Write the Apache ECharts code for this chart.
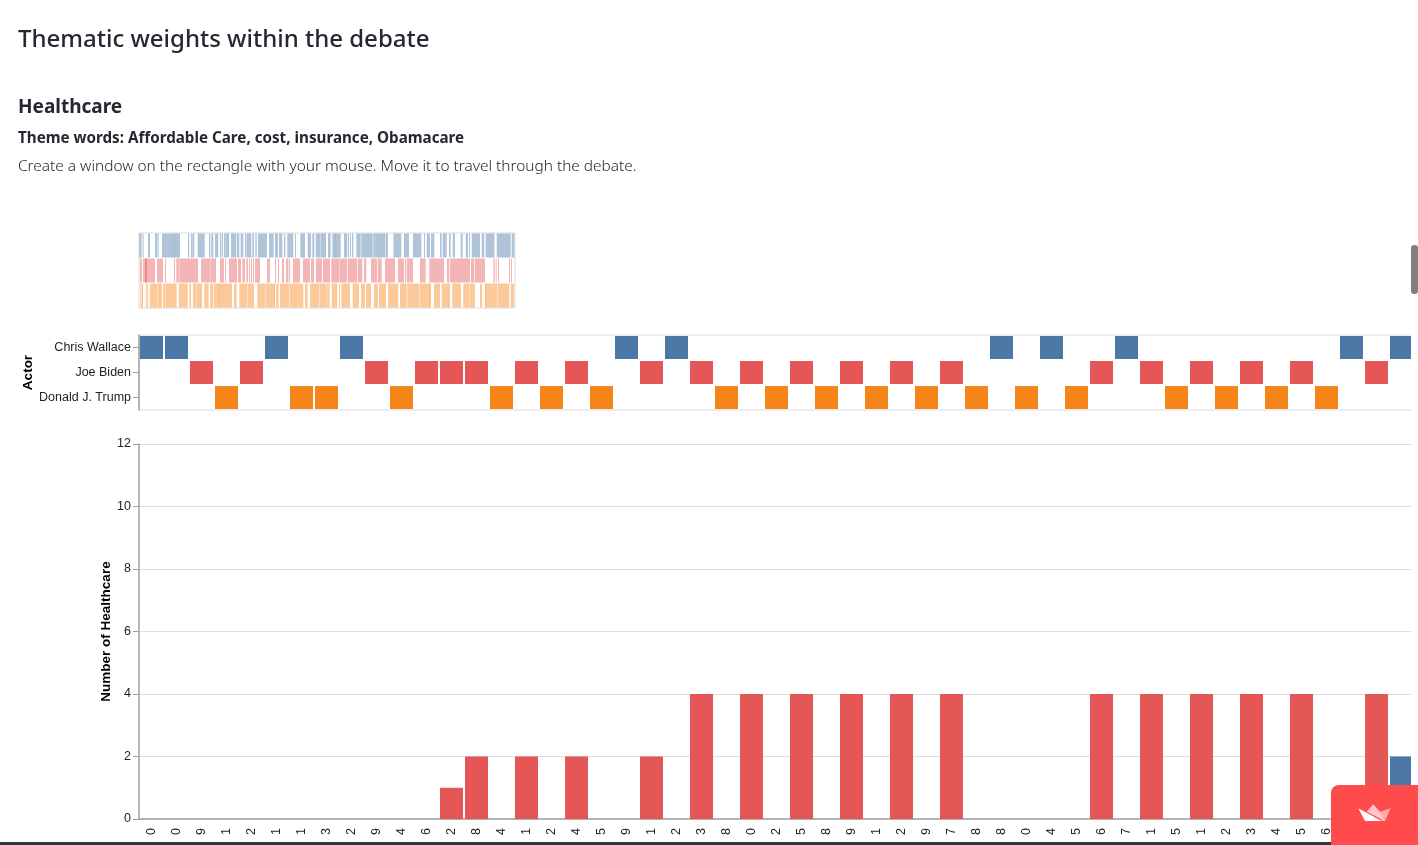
<!DOCTYPE html>
<html><head><meta charset="utf-8">
<style>html,body{margin:0;padding:0;background:#fff;overflow:hidden}#c{width:1418px;height:845px}</style>
<script src="https://cdn.jsdelivr.net/npm/echarts@6/dist/echarts.min.js"></script>
</head><body><div id="c"></div>
<script>
const actors = ['Chris Wallace', 'Joe Biden', 'Donald J. Trump'];
const xLabels = ['0','0','9','1','2','1','1','3','2','9','4','6','2','8','4','1','2','4','5','9','1','2','3','8','0','2','5','8','9','1','2','9','7','8','8','0','4','5','6','7','1','5','1','2','3','4','5','6','7','8','9'];
const wallaceTurns = [0,1,5,8,19,21,34,36,39,48,50];
const bidenTurns = [2,4,9,11,12,13,15,17,20,22,24,26,28,30,32,38,40,42,44,46,49];
const trumpTurns = [3,6,7,10,14,16,18,23,25,27,29,31,33,35,37,41,43,45,47];
const bidenCounts = [0,0,0,0,0,0,0,0,0,0,0,0,1,2,0,2,0,2,0,0,2,0,4,0,4,0,4,0,4,0,4,0,4,0,0,0,0,0,4,0,4,0,4,0,4,0,4,0,0,4,0];
const wallaceCounts = [0,0,0,0,0,0,0,0,0,0,0,0,0,0,0,0,0,0,0,0,0,0,0,0,0,0,0,0,0,0,0,0,0,0,0,0,0,0,0,0,0,0,0,0,0,0,0,0,0,0,2];
const wallaceSpans = [[0.3,2.7],[3.7,4.7],[9,11],[16,18],[18.4,19.7],[23,35.3],[35,41],[49,50.3],[52,53.7],[54,55.3],[58.7,65.7],[70,71.3],[72.3,74.3],[76,79.3],[81,82.3],[83,84],[85,86],[86.3,90],[92,97],[97.7,100.3],[101.7,104.3],[106,107.3],[107.7,112.3],[113.3,115],[116.3,117.7],[119,128],[130,134.7],[136,139],[140,143.3],[145,146.3],[148.3,154.3],[156,157],[161.3,166],[168.7,172],[173.3,175.3],[176.7,181],[181.3,187],[189,191.7],[193.3,197],[196.7,201.7],[205,208.3],[209,210],[211,212],[213,214.3],[217.3,221.7],[222.3,233.7],[234.3,236.5],[236.5,246],[246.5,249],[254.3,255.7],[255.7,262.3],[265,270],[274,282.3],[285,286],[287.7,291],[292,295.3],[301,302.7],[303.7,307.7],[310,311.7],[313.7,316],[321.7,323.7],[326.7,329],[330,331],[332.7,341],[342.7,345.3],[346.7,355.5],[357.7,371.7],[372.7,375.3]];
const bidenSpans = [[1,3],[4,8],[6,16],[18,24],[26,27],[35,36],[37.3,40],[40.3,59],[62,71],[71.3,77],[81,85],[86,87],[90,98],[99,102],[103.3,106],[107.3,109],[110,111],[112,113],[114,115],[116,121],[128,131],[136,137],[139,140],[143,145],[147,149],[149.6,151],[154,161],[164,171],[172,175],[177,183],[184,191],[192.3,200],[200.4,208.3],[209,218.3],[219,223.3],[225,227.3],[232,238.3],[239,242.7],[246,256],[259,265],[266,267],[267.7,274],[281,286],[286.3,287],[290.3,305],[308,310.3],[311,315],[315,331],[332,335],[335.7,346],[354.3,355.7],[356.7,357.7],[359,360],[370,371],[372,373]];
const trumpSpans = [[1,1.7],[2.3,3.7],[3,3.7],[6.7,7.7],[8,9],[10.7,18.3],[18.7,23],[24,26],[26.3,37.7],[39.7,48.7],[50.3,52],[54,57],[57.4,63],[65.3,69.7],[71,74.3],[75,80.5],[80,93],[95,97.7],[100.3,108],[108.4,115],[118.3,126],[126.4,135.5],[135,136],[137,139.7],[141,150.3],[150.7,164.3],[166,168.7],[171,180],[180.4,187],[187.3,190.7],[192.7,198.3],[200,201],[202.3,211],[213.7,220],[222,226],[227,232],[235,239],[240,247],[249,259.3],[261,267.7],[268.3,280],[280.4,291],[290.5,292],[295,301],[302.7,311],[313.3,322],[324.3,330],[330.4,336],[341,343],[346,347],[346.5,358],[358.4,370.3],[371.7,375]];

const BLUE='#4c78a8', RED='#e45756', ORANGE='#f58518';
const AX='#a0a0a0', GR='#ddd', TXT='#262730';
const sans='"Noto Sans", sans-serif', lab='"Liberation Sans", Arial, sans-serif';

function spanSeries(spans, row, color){
  return {type:'custom', xAxisIndex:0, yAxisIndex:0, silent:true,
    data: spans.map(s=>[s[0],s[1],row]),
    encode:{x:[0,1],y:2},
    renderItem:(p,api)=>{
      const a=api.coord([api.value(0),api.value(2)]);
      const b=api.coord([api.value(1),api.value(2)]);
      const h=api.size([0,1])[1]-1;
      return {type:'rect',shape:{x:a[0],y:a[1]-h/2,width:b[0]-a[0],height:h},style:{fill:color,opacity:.44}};
    }};
}
function turnSeries(turns, row, color){
  return {type:'scatter', xAxisIndex:1, yAxisIndex:1, symbol:'rect', symbolSize:23, silent:true,
    itemStyle:{color:color,opacity:1}, data:turns.map(i=>[i,row])};
}
function barSeries(name, vals, color){
  return {type:'bar', name, stack:'n', xAxisIndex:2, yAxisIndex:2, barWidth:23, silent:true,
    itemStyle:{color:color}, data:vals};
}
const option={
  animation:false, backgroundColor:'#fff',
  title:[
    {text:'Thematic weights within the debate',left:18,top:28,padding:0,textStyle:{fontFamily:sans,fontSize:24,fontWeight:500,color:TXT}},
    {text:'Healthcare',left:18,top:98,padding:0,textStyle:{fontFamily:sans,fontSize:19,fontWeight:700,color:TXT}},
    {text:'Theme words: Affordable Care, cost, insurance, Obamacare',left:18,top:131,padding:0,textStyle:{fontFamily:sans,fontSize:15.2,fontWeight:700,color:TXT}},
    {text:'Create a window on the rectangle with your mouse. Move it to travel through the debate.',left:18,top:159,padding:0,textStyle:{fontFamily:sans,fontSize:15.4,fontWeight:300,color:TXT}}
  ],
  grid:[
    {left:139,top:233,width:376,height:75,show:true,borderColor:GR,borderWidth:1,backgroundColor:'transparent'},
    {left:139,top:335,width:1275,height:75,show:true,borderColor:GR,borderWidth:1,backgroundColor:'transparent'},
    {left:139,top:444,width:1275,height:375}
  ],
  xAxis:[
    {gridIndex:0,type:'value',min:0,max:376,show:false},
    {gridIndex:1,type:'category',data:xLabels,show:false},
    {gridIndex:2,type:'category',data:xLabels,
      axisLine:{lineStyle:{color:AX,width:1.5}},axisTick:{alignWithLabel:true,length:5,lineStyle:{color:AX}},
      axisLabel:{interval:0,rotate:90,margin:9,fontFamily:lab,fontSize:12.5,color:'#222'}}
  ],
  yAxis:[
    {gridIndex:0,type:'category',inverse:true,data:actors,show:false},
    {gridIndex:1,type:'category',inverse:true,data:actors,
      name:'Actor',nameLocation:'middle',nameGap:104,nameMoveOverlap:false,nameTextStyle:{fontFamily:lab,fontSize:13.5,fontWeight:'bold',color:'#000'},
      axisLine:{show:true,lineStyle:{color:AX,width:1.5}},axisTick:{show:true,alignWithLabel:true,length:6,lineStyle:{color:AX}},
      axisLabel:{margin:8,padding:[0,0,2,0],fontFamily:lab,fontSize:12.5,color:'#222'},splitLine:{show:false}},
    {gridIndex:2,type:'value',min:0,max:12,interval:2,
      name:'Number of Healthcare',nameLocation:'middle',nameGap:26,nameMoveOverlap:false,nameTextStyle:{fontFamily:lab,fontSize:13.5,fontWeight:'bold',color:'#000'},
      axisLine:{show:true,lineStyle:{color:AX,width:1.5}},axisTick:{show:true,length:6,lineStyle:{color:AX}},
      axisLabel:{margin:8,fontFamily:lab,fontSize:12.5,color:'#222'},splitLine:{show:true,lineStyle:{color:GR,width:1}}}
  ],
  series:[
    spanSeries(wallaceSpans,actors[0],BLUE),
    spanSeries(bidenSpans,actors[1],RED),
    spanSeries(trumpSpans,actors[2],ORANGE),
    turnSeries(wallaceTurns,actors[0],BLUE),
    turnSeries(bidenTurns,actors[1],RED),
    turnSeries(trumpTurns,actors[2],ORANGE),
    barSeries('Joe Biden',bidenCounts,RED),
    barSeries('Chris Wallace',wallaceCounts,BLUE)
  ],
  graphic:[
    {type:'rect',z:100,shape:{x:1411,y:325,width:7,height:520},style:{fill:'#fff'}},
    {type:'rect',z:101,shape:{x:1411,y:245,width:7,height:49,r:3},style:{fill:'#808080'}},
    {type:'rect',z:101,shape:{x:0,y:842,width:1418,height:3},style:{fill:'#31333f'}},
    {type:'rect',z:102,shape:{x:1331,y:785,width:87,height:60,r:[8,0,0,0]},style:{fill:'#ff4b4b'}},
    {type:'polygon',z:103,shape:{points:[[1380,811.7],[1390.7,808.3],[1385,821],[1381.7,821]]},style:{fill:'#ffa9a9'}},
    {type:'polygon',z:104,shape:{points:[[1366.7,811.7],[1373.3,804.3],[1380,811.7],[1385,821]]},style:{fill:'#ffc8c8'}},
    {type:'polygon',z:105,shape:{points:[[1358.3,808.3],[1381.7,821],[1365,821]]},style:{fill:'#fff'}}
  ]
};
echarts.init(document.getElementById('c'),null,{renderer:'canvas'}).setOption(option);
</script></body></html>
